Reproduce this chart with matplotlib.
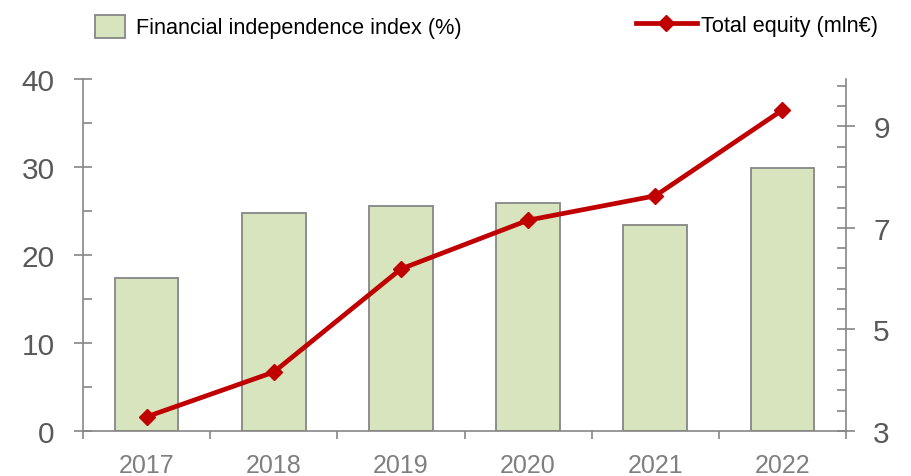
import matplotlib.pyplot as plt
import numpy as np
from matplotlib.ticker import MultipleLocator, FixedLocator, NullFormatter

plt.rcParams['font.family'] = ['Liberation Sans', 'DejaVu Sans']

years = ['2017', '2018', '2019', '2020', '2021', '2022']
independence = [17.4, 24.8, 25.6, 25.9, 23.4, 29.9]   # %
equity = [3.28, 4.16, 6.19, 7.15, 7.63, 9.32]          # mln EUR

grey = '#868686'
bar_color = '#d7e4bd'
red = '#c00000'

fig = plt.figure(figsize=(9.11, 4.77), dpi=100)
ax = fig.add_axes([0.0911, 0.0943, 0.8376, 0.738])
ax2 = ax.twinx()

x = np.arange(len(years))
bars = ax.bar(x, independence, width=0.5, color=bar_color, edgecolor=grey,
              linewidth=1.3, label='Financial independence index (%)')
line, = ax2.plot(x, equity, color=red, linewidth=3.4, marker='D', markersize=8.5,
                 label='Total equity (mln€)', zorder=5)

# left axis
ax.set_xlim(-0.5, len(years) - 0.5)
ax.set_ylim(0, 40)
ax.yaxis.set_major_locator(MultipleLocator(10))
ax.yaxis.set_minor_locator(MultipleLocator(5))
ax.tick_params(axis='y', which='major', direction='inout', length=13, width=1.2,
               color=grey, labelsize=21.5, labelcolor='#595959', pad=14)
ax.tick_params(axis='y', which='minor', direction='in', length=6.5, width=1.2, color=grey)

# x axis: ticks on category boundaries, labels at centres
ax.xaxis.set_major_locator(FixedLocator(np.arange(-0.5, len(years), 1.0)))
ax.xaxis.set_major_formatter(NullFormatter())
ax.xaxis.set_minor_locator(FixedLocator(x))
ax.set_xticklabels(years, minor=True)
ax.tick_params(axis='x', which='major', direction='out', length=6, width=1.2, color=grey)
ax.tick_params(axis='x', which='minor', length=0, labelsize=18, labelcolor='#7f7f7f', pad=16)

# right axis
ax2.set_ylim(3, 9.93)
ax2.yaxis.set_major_locator(FixedLocator([3, 5, 7, 9]))
ax2.yaxis.set_minor_locator(FixedLocator(np.arange(3, 9.9, 0.4)))
ax2.tick_params(axis='y', which='major', direction='inout', length=13, width=1.2,
                color=grey, labelsize=21.5, labelcolor='#595959', pad=13)
ax2.tick_params(axis='y', which='minor', direction='in', length=6.5, width=1.2, color=grey)

for a in (ax, ax2):
    a.spines['top'].set_visible(False)
    for s in ('left', 'right', 'bottom'):
        a.spines[s].set_color(grey)
        a.spines[s].set_linewidth(1.2)
ax.spines['right'].set_visible(False)
ax2.spines['left'].set_visible(False)
ax2.spines['bottom'].set_visible(False)

fig.legend(handles=[bars], loc='upper left', bbox_to_anchor=(0.083, 1.008),
           frameon=False, fontsize=15.6, handlelength=1.4, handleheight=1.25,
           handletextpad=0.5)
fig.legend(handles=[line], loc='upper right', bbox_to_anchor=(0.985, 1.008),
           frameon=False, fontsize=15.6, handlelength=2.8, handletextpad=0.2)

fig.savefig('out.png', dpi=100)
